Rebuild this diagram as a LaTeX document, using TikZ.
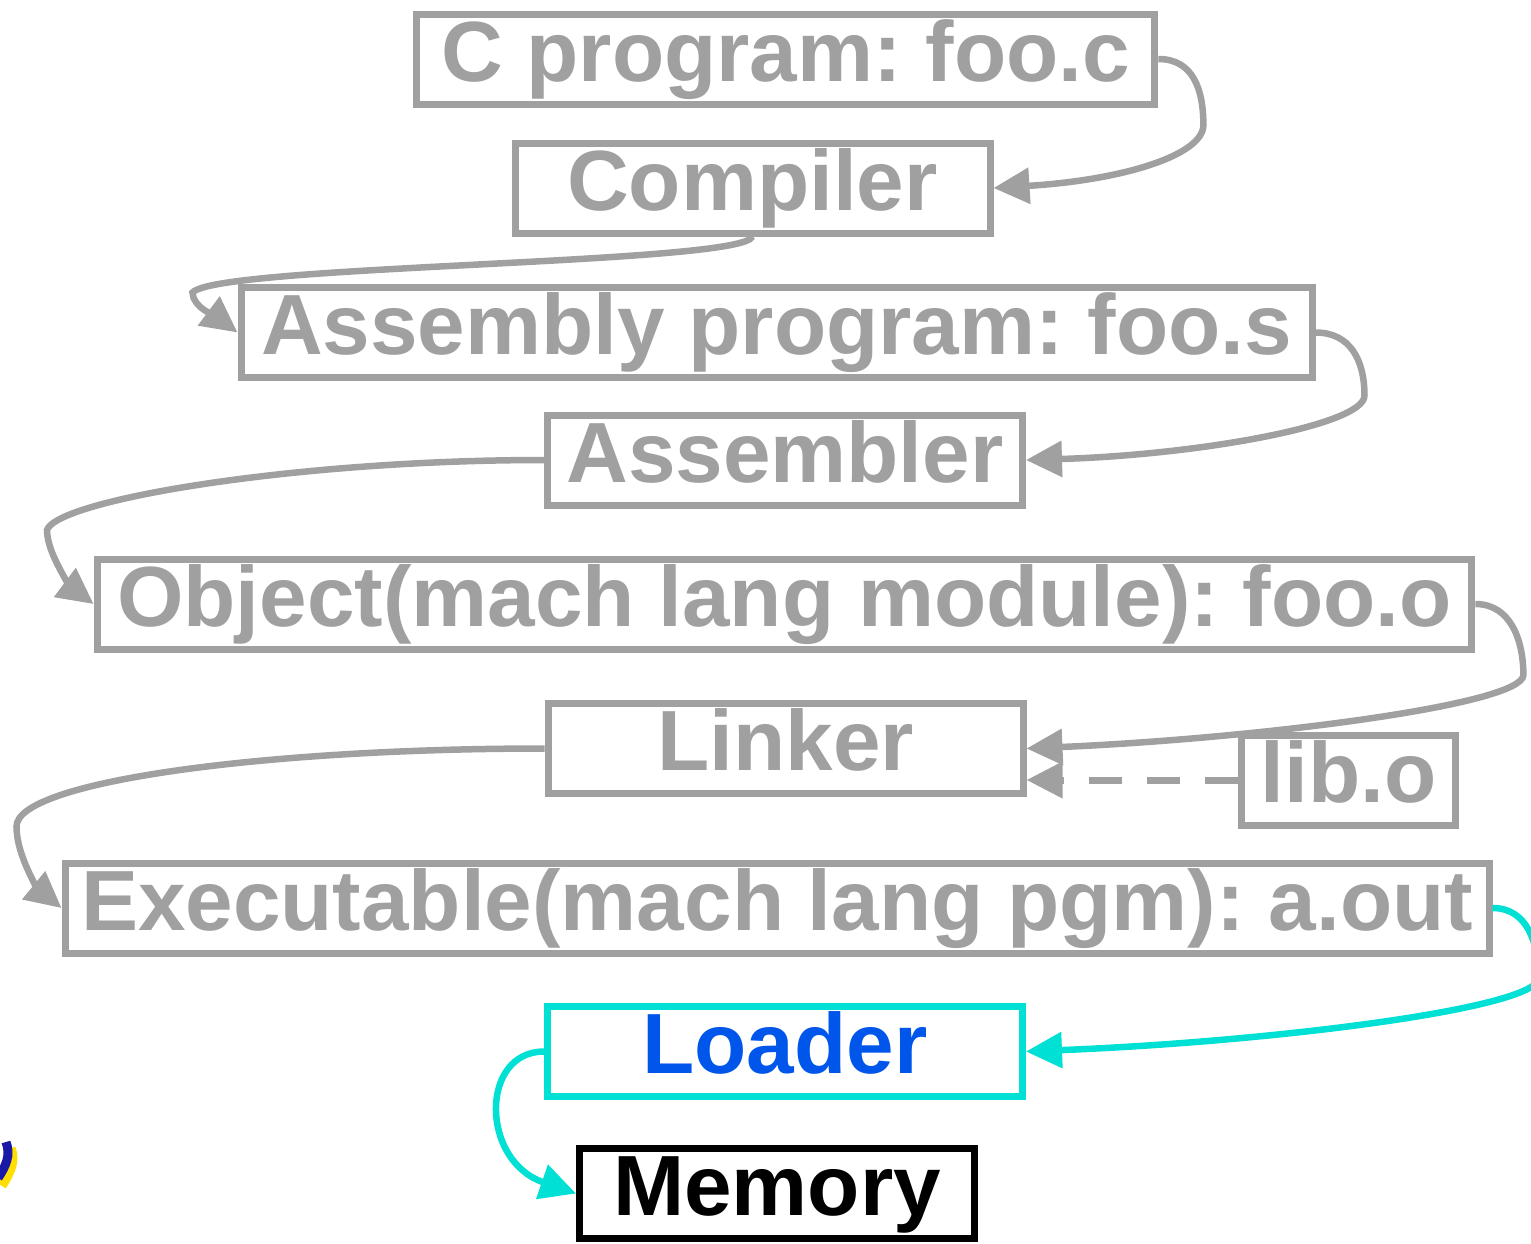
\documentclass[tikz,border=0pt]{standalone}
\usepackage{fontspec}
\setmainfont{Liberation Sans}
\frenchspacing
\usepackage{tikz}
\usetikzlibrary{arrows.meta}

\definecolor{stepgray}{RGB}{160,160,160}
\definecolor{loadcyan}{RGB}{0,224,212}
\definecolor{loadblue}{RGB}{0,85,235}
\definecolor{markyellow}{RGB}{255,222,0}
\definecolor{markblue}{RGB}{25,25,165}

\tikzset{
  filebox/.style={draw=stepgray, text=stepgray, line width=7pt,
    inner xsep=20pt, inner ysep=5pt, minimum height=90pt,
    text height=62pt, text depth=18pt,
    font=\bfseries\fontsize{85.5}{100}\selectfont},
  toolbox/.style={filebox, minimum width=475pt, inner xsep=0pt},
  flow/.style={draw=stepgray, line width=6.5pt,
    -{Triangle[length=36pt,width=35pt]}},
}

\begin{document}
\begin{tikzpicture}[x=1pt, y=-1pt]
\useasboundingbox (0,0) rectangle (1531,1243);

%% stages, top to bottom
\node[filebox, inner xsep=25pt] (cprog) at (785.5,59) {C program: foo.c};
\node[toolbox] (compiler) at (752.5,188) {Compiler};
\node[filebox] (assembly) at (776.5,332.5) {Assembly program: foo.s};
\node[toolbox] (assembler) at (785,460) {Assembler};
\node[filebox] (object) at (784.5,604) {Object(mach lang module): foo.o};
\node[toolbox] (linker) at (785.5,748.5) {Linker};
\node[filebox, inner xsep=19pt] (lib) at (1348.5,780) {lib.o};
\node[filebox, inner xsep=16pt] (exec) at (777,908) {Executable(mach lang pgm): a.out};
\node[toolbox, draw=loadcyan, text=loadblue] (loader) at (785,1051.5) {Loader};
\node[filebox, draw=black, text=black, minimum width=395pt] (memory) at (777,1193.5) {Memory};

%% right hand loops
\draw[flow] (cprog.east) .. controls +(35,0) and +(0,-35) .. ++(45,66)
    .. controls +(0,30) and +(130,-8) .. (compiler.east);
\draw[flow] (assembly.east) .. controls +(35,0) and +(0,-35) .. ++(49,63)
    .. controls +(0,30) and +(170,-5) .. (assembler.east);
\draw[flow] (object.east) .. controls +(35,0) and +(0,-35) .. ++(48,71)
    .. controls +(0,30) and +(230,-10) .. (linker.east);

%% left hand loops
\draw[flow] (compiler.south) .. controls +(-10,28) and +(25,-28) .. ++(-560,56)
    .. controls +(0,15) and +(-20,-15) .. (assembly.west);
\draw[flow] (assembler.west) .. controls +(-250,0) and +(10,-30) .. ++(-497,70)
    .. controls +(0,25) and +(-20,-15) .. (object.west);
\draw[flow] (linker.west) .. controls +(-280,0) and +(0,-45) .. ++(-528,78)
    .. controls +(0,30) and +(-22,-18) .. (exec.west);

% library into the linker
\draw[flow, line width=7pt, dash pattern=on 33pt off 25pt] (lib.west) -- (lib.west -| linker.east);

%% loading
\draw[flow, draw=loadcyan] (exec.east) .. controls +(35,0) and +(0,-35) .. ++(46,70)
    .. controls +(0,30) and +(250,-10) .. (loader.east);
\draw[flow, draw=loadcyan] (loader.west) .. controls +(-64,0) and +(-96,-33) .. (memory.west);

% mark at the left edge
\draw[markyellow, line width=9pt] (2,1186) .. controls (11,1172) and (16,1160) .. (11,1148);
\draw[markblue, line width=9pt] (-2,1178) .. controls (6,1166) and (11,1155) .. (6,1142);

\end{tikzpicture}
\end{document}
